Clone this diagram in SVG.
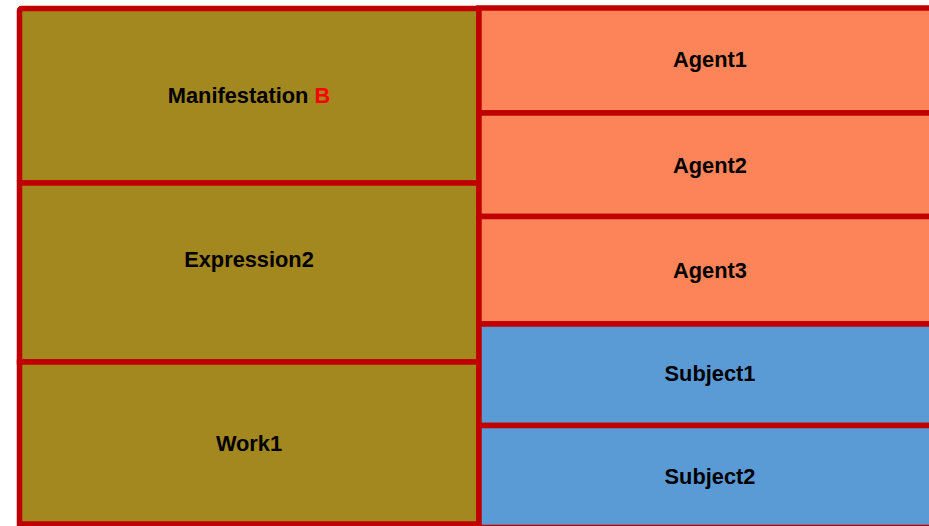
<svg xmlns="http://www.w3.org/2000/svg" width="929" height="526" viewBox="0 0 929 526">
<style>
.box{stroke:#C00000;stroke-width:5.5}
.olive{fill:#A3871F}
.salmon{fill:#FC8458}
.blue{fill:#5B9BD5}
text{font-family:"Liberation Sans",Arial,sans-serif;font-weight:bold;font-size:21.8px;fill:#000;text-anchor:middle}
</style>
<rect width="929" height="526" fill="#fff"/>
<g id="manifestation"><rect class="box olive" x="19.5" y="8.5" width="459.5" height="174.5" rx="2"/><text x="249" y="103">Manifestation <tspan fill="#FF0000">B</tspan></text></g>
<g id="expression2"><rect class="box olive" x="19.5" y="183" width="459.5" height="179"/><text x="249" y="267">Expression2</text></g>
<g id="work1"><rect class="box olive" x="19.5" y="362" width="459.5" height="162"/><text x="249" y="451">Work1</text></g>
<g id="agent1"><rect class="box salmon" x="479" y="8" width="462" height="105"/><text x="710" y="67">Agent1</text></g>
<g id="agent2"><rect class="box salmon" x="479" y="113" width="462" height="103.5"/><text x="710" y="173">Agent2</text></g>
<g id="agent3"><rect class="box salmon" x="479" y="216.5" width="462" height="107.5"/><text x="710" y="278">Agent3</text></g>
<g id="subject1"><rect class="box blue" x="479" y="324" width="462" height="101.5"/><text x="710" y="381">Subject1</text></g>
<g id="subject2"><rect class="box blue" x="479" y="425.5" width="462" height="102"/><text x="710" y="484">Subject2</text></g>
<g id="connectors"></g>
</svg>
